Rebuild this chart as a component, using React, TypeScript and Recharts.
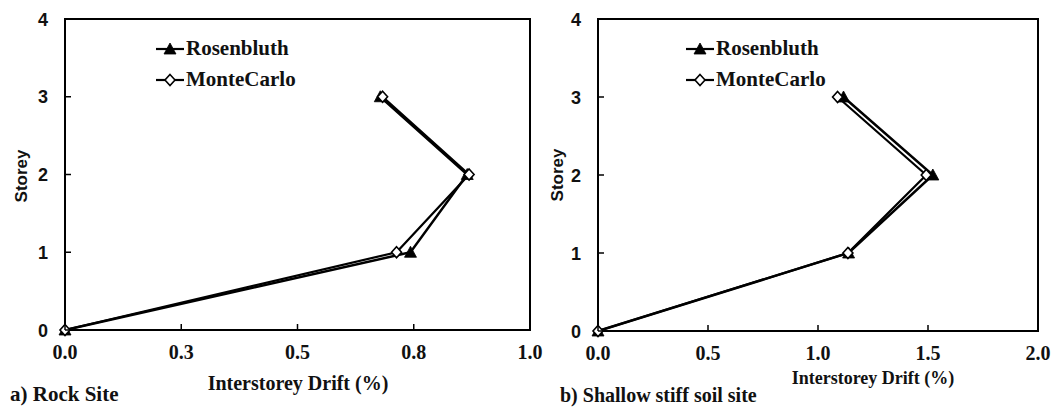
import React from 'react';
import { ScatterChart, Scatter, XAxis, YAxis, ReferenceArea, Legend } from 'recharts';

const storeys = [0, 1, 2, 3];
const rockRosenbluth = [0, 0.743, 0.865, 0.678];
const rockMonteCarlo = [0, 0.713, 0.869, 0.683];
const soilRosenbluth = [0, 1.139, 1.522, 1.116];
const soilMonteCarlo = [0, 1.136, 1.492, 1.089];

const rockXTicks = [0, 0.25, 0.5, 0.75, 1];
const rockXTickLabels = ['0.0', '0.3', '0.5', '0.8', '1.0'];
const soilXTicks = [0, 0.5, 1, 1.5, 2];
const soilXTickLabels = ['0.0', '0.5', '1.0', '1.5', '2.0'];
const yTicks = [0, 1, 2, 3, 4];
const yTickLabels = ['0', '1', '2', '3', '4'];
const seriesNames = ['Rosenbluth', 'MonteCarlo'];

const SERIF = '"Liberation Serif", "Times New Roman", serif';
const SANS = '"Liberation Sans", Arial, sans-serif';

const toPoints = (vals: number[]) => vals.map((v, i) => ({ drift: v, storey: storeys[i] }));

const Triangle = (props: any) => {
  const { cx, cy } = props;
  if (cx == null || cy == null) return null;
  return <polygon points={`${cx},${cy - 6} ${cx + 6},${cy + 5} ${cx - 6},${cy + 5}`} fill="#000" stroke="#000" strokeWidth={0.8} />;
};

const Diamond = (props: any) => {
  const { cx, cy } = props;
  if (cx == null || cy == null) return null;
  return <polygon points={`${cx},${cy - 5.5} ${cx + 5},${cy} ${cx},${cy + 5.5} ${cx - 5},${cy}`} fill="#fff" stroke="#000" strokeWidth={1.6} />;
};

const makeXTick = (ticks: number[], labels: string[]) => (props: any) => {
  const { x, y, payload } = props;
  const idx = ticks.indexOf(payload.value);
  return (
    <g>
      <line x1={x} y1={y} x2={x} y2={y - 6} stroke="#000" strokeWidth={1.5} />
      <text x={x} y={y + 29} textAnchor="middle" fontFamily={SERIF} fontWeight="bold" fontSize={20} fill="#111">
        {labels[idx]}
      </text>
    </g>
  );
};

const YTick = (props: any) => {
  const { x, y, payload } = props;
  const idx = yTicks.indexOf(payload.value);
  return (
    <g>
      <line x1={x} y1={y} x2={x + 6} y2={y} stroke="#000" strokeWidth={1.5} />
      <text x={x - 17} y={y + 6.5} textAnchor="end" fontFamily={SANS} fontWeight="bold" fontSize={18} fill="#111">
        {yTickLabels[idx]}
      </text>
    </g>
  );
};

const LegendContent = () => (
  <div style={{ display: 'flex', flexDirection: 'column' }}>
    {seriesNames.map((name, i) => (
      <div key={name} style={{ display: 'flex', alignItems: 'center', height: 31 }}>
        <svg width={30} height={20} style={{ display: 'block' }}>
          <line x1={0} y1={10} x2={28} y2={10} stroke="#000" strokeWidth={2.2} />
          {i === 0 ? <Triangle cx={14} cy={10} /> : <Diamond cx={14} cy={10} />}
        </svg>
        <span style={{ fontFamily: SERIF, fontWeight: 'bold', fontSize: 21, color: '#111', lineHeight: 1, whiteSpace: 'nowrap' }}>{name}</span>
      </div>
    ))}
  </div>
);

type PanelProps = {
  r: number[];
  m: number[];
  xMax: number;
  xTicks: number[];
  xLabels: string[];
  margin: { top: number; right: number; bottom: number; left: number };
  width: number;
};

const Panel = ({ r, m, xMax, xTicks, xLabels, margin, width }: PanelProps) => (
  <ScatterChart width={width} height={408} margin={margin} style={{ overflow: 'visible' }}>
    <XAxis
      type="number"
      dataKey="drift"
      domain={[0, xMax]}
      ticks={xTicks}
      tick={makeXTick(xTicks, xLabels)}
      tickSize={0}
      tickMargin={0}
      tickLine={false}
      axisLine={{ stroke: '#000', strokeWidth: 2 }}
      height={30}
      interval={0}
    />
    <YAxis
      type="number"
      dataKey="storey"
      domain={[0, 4]}
      ticks={yTicks}
      tick={YTick}
      tickSize={0}
      tickMargin={0}
      tickLine={false}
      axisLine={{ stroke: '#000', strokeWidth: 2 }}
      width={40}
      interval={0}
    />
    <ReferenceArea x1={0} x2={xMax} y1={0} y2={4} fill="none" fillOpacity={0} stroke="#000" strokeWidth={2} />
    <Scatter
      name={seriesNames[0]}
      data={toPoints(r)}
      line={{ stroke: '#000', strokeWidth: 2.5 }}
      shape={Triangle}
      isAnimationActive={false}
    />
    <Scatter
      name={seriesNames[1]}
      data={toPoints(m)}
      line={{ stroke: '#000', strokeWidth: 2.2 }}
      shape={Diamond}
      isAnimationActive={false}
    />
    <Legend
      layout="vertical"
      align="center"
      verticalAlign="middle"
      content={LegendContent}
      wrapperStyle={{ left: 156, top: 33, width: 170, height: 62 }}
    />
  </ScatterChart>
);

const abs = (x: number, y: number, extra: React.CSSProperties = {}): React.CSSProperties => ({
  position: 'absolute',
  left: x,
  top: y,
  transform: 'translate(-50%, -50%)',
  whiteSpace: 'nowrap',
  lineHeight: 1,
  color: '#111',
  ...extra,
});

export default function App() {
  return (
    <div style={{ position: 'absolute', left: 0, top: 0, width: 1061, height: 408, background: '#fff', overflow: 'hidden' }}>
      <div style={{ position: 'absolute', left: 0, top: 0 }}>
        <Panel
          r={rockRosenbluth}
          m={rockMonteCarlo}
          xMax={1}
          xTicks={rockXTicks}
          xLabels={rockXTickLabels}
          margin={{ top: 19, right: 30, bottom: 48, left: 25 }}
          width={560}
        />
      </div>
      <div style={{ position: 'absolute', left: 530, top: 0 }}>
        <Panel
          r={soilRosenbluth}
          m={soilMonteCarlo}
          xMax={2}
          xTicks={soilXTicks}
          xLabels={soilXTickLabels}
          margin={{ top: 19, right: 23, bottom: 47, left: 28 }}
          width={531}
        />
      </div>
      <div style={abs(298, 383, { fontFamily: SERIF, fontWeight: 'bold', fontSize: 20 })}>Interstorey Drift (%)</div>
      <div style={abs(873, 378, { fontFamily: SERIF, fontWeight: 'bold', fontSize: 18 })}>Interstorey Drift (%)</div>
      <div style={abs(21, 176, { fontFamily: SANS, fontWeight: 'bold', fontSize: 17, transform: 'translate(-50%, -50%) rotate(-90deg)' })}>Storey</div>
      <div style={abs(557, 175, { fontFamily: SANS, fontWeight: 'bold', fontSize: 17, transform: 'translate(-50%, -50%) rotate(-90deg)' })}>Storey</div>
      <div style={{ position: 'absolute', left: 10, top: 384, fontFamily: SERIF, fontWeight: 'bold', fontSize: 21, lineHeight: 1, color: '#111', whiteSpace: 'nowrap' }}>a) Rock Site</div>
      <div style={{ position: 'absolute', left: 560, top: 385, fontFamily: SERIF, fontWeight: 'bold', fontSize: 20, lineHeight: 1, color: '#111', whiteSpace: 'nowrap' }}>b) Shallow stiff soil site</div>
    </div>
  );
}
